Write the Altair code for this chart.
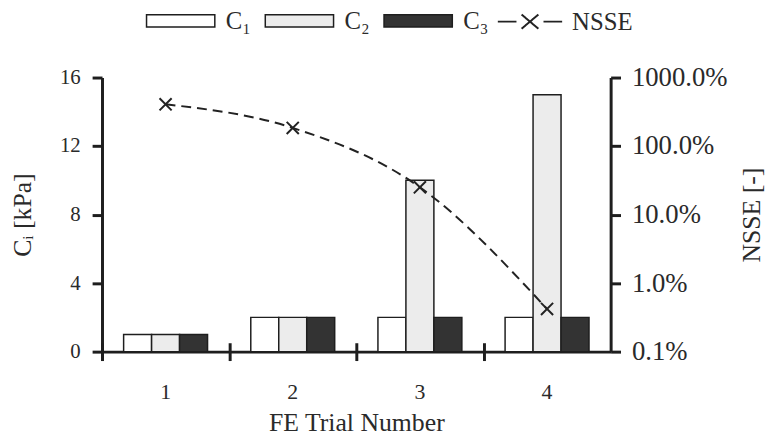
import altair as alt
import pandas as pd

trials = ["1", "2", "3", "4"]
series = ["C₁", "C₂", "C₃"]
c1 = [1, 2, 2, 2]
c2 = [1, 2, 10, 15]
c3 = [1, 2, 2, 2]
nsse = [4.07, 1.84, 0.25, 0.0042]
nsse_ticks = [0.001, 0.01, 0.1, 1, 10]
ci_ticks = [0, 4, 8, 12, 16]

rows = []
for i, t in enumerate(trials):
    for s, vals in zip(series, [c1, c2, c3]):
        rows.append({"trial": t, "series": s, "value": vals[i]})
bars_df = pd.DataFrame(rows)
line_df = pd.DataFrame({"trial": trials, "nsse": nsse, "name": ["NSSE"] * len(trials)})

FONT = "Liberation Serif"
TXT = "#2a2a2a"
INK = "#1e1e1e"

xscale = alt.Scale(domain=trials, paddingInner=0.34, paddingOuter=0.17)
logscale = alt.Scale(type="log", domain=[0.001, 10])

bars = alt.Chart(bars_df).mark_bar(stroke=INK, strokeWidth=1.5).encode(
    x=alt.X("trial:N", scale=xscale, sort=trials,
            axis=alt.Axis(title="FE Trial Number", orient="bottom", labelAngle=0, ticks=False,
                          tickSize=0, domain=True, labelFontSize=22,
                          labelPadding=30, titlePadding=8)),
    xOffset=alt.XOffset("series:N", sort=series, scale=alt.Scale(paddingInner=0, paddingOuter=0)),
    y=alt.Y("value:Q", scale=alt.Scale(domain=[0, 16]),
            axis=alt.Axis(values=ci_ticks, title="Cᵢ [kPa]", grid=False, tickSize=10,
                          labelFontSize=21, labelPadding=12, titlePadding=24)),
    fill=alt.Fill("series:N", sort=series,
                  scale=alt.Scale(domain=series, range=["#ffffff", "#ececec", "#333333"]),
                  legend=alt.Legend(title=None, orient="none", legendX=44, legendY=-93,
                                    direction="horizontal", gridAlign="all",
                                    symbolType="M-1,-0.18H1V0.18H-1Z", symbolSize=4761,
                                    symbolStrokeColor=INK, symbolStrokeWidth=1.5, symbolOpacity=1,
                                    labelFont=FONT, labelFontSize=25, labelColor=TXT,
                                    labelOffset=10, columnPadding=11, padding=0)),
)

line = alt.Chart(line_df).mark_line(strokeDash=[10, 6], strokeWidth=2, interpolate="monotone").encode(
    x=alt.X("trial:N", scale=xscale, sort=trials,
            axis=alt.Axis(title=None, orient="bottom", labels=False, domain=False, ticks=True,
                          tickSize=18, offset=-9, tickOffset=-64.25)),
    y=alt.Y("nsse:Q", scale=logscale,
            axis=alt.Axis(orient="right", values=nsse_ticks, format=".1%", title="NSSE [-]",
                          titleAngle=270, titleBaseline="top", grid=False, tickSize=10,
                          labelFontSize=27, labelPadding=11, titlePadding=12)),
    stroke=alt.Stroke("name:N", scale=alt.Scale(domain=["NSSE"], range=["#222222"]),
                      legend=alt.Legend(title=None, orient="none", legendX=399, legendY=-90,
                                        symbolType="M-1,0H-0.42M-0.26,-0.22L0.26,0.22M-0.26,0.22L0.26,-0.22M0.42,0H1",
                                        symbolSize=4225, symbolStrokeColor="#222222",
                                        symbolFillColor="transparent", symbolStrokeWidth=2,
                                        symbolDash=[1, 0], symbolOpacity=1,
                                        labelFont=FONT, labelFontSize=25, labelColor=TXT,
                                        labelOffset=9, padding=0)),
)

pts = alt.Chart(line_df).mark_point(shape="M-1,-1L1,1M-1,1L1,-1", filled=False, size=150,
                                    strokeWidth=2, color="#222222", opacity=1).encode(
    x=alt.X("trial:N", scale=xscale, sort=trials, axis=None),
    y=alt.Y("nsse:Q", scale=logscale, axis=None),
)

chart = (
    alt.layer(bars, line, pts)
    .resolve_scale(y="independent", fill="independent", stroke="independent")
    .resolve_axis(x="independent")
    .properties(width=514, height=277,
                autosize=alt.AutoSizeParams(type="none"),
                padding={"left": 95, "top": 68, "right": 156, "bottom": 85})
    .configure_view(stroke=None)
    .configure_axis(labelFont=FONT, titleFont=FONT, labelFontSize=22, titleFontSize=26,
                    labelColor=TXT, titleColor=TXT, titleFontWeight="normal",
                    domainColor=INK, domainWidth=3, tickColor=INK, tickWidth=3)
)

chart.save("out.html", embed_options={"renderer": "svg", "actions": False})
